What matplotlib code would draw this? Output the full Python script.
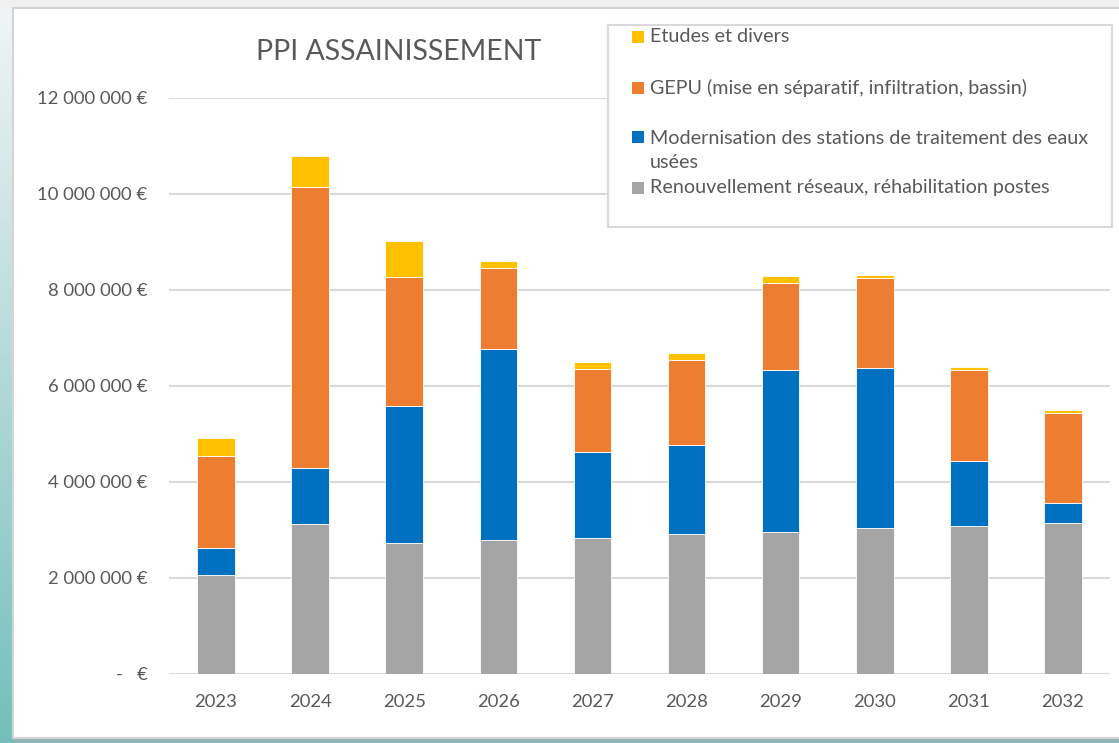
import matplotlib
matplotlib.use("Agg")
import matplotlib.pyplot as plt
import numpy as np
from matplotlib.patches import Rectangle
from matplotlib.ticker import FuncFormatter

plt.rcParams['font.family'] = ['Lato', 'DejaVu Sans']

years = ["2023", "2024", "2025", "2026", "2027", "2028", "2029", "2030", "2031", "2032"]
renouvellement = [2.06e6, 3.11e6, 2.73e6, 2.78e6, 2.83e6, 2.90e6, 2.95e6, 3.03e6, 3.07e6, 3.13e6]
modernisation = [0.56e6, 1.17e6, 2.85e6, 3.98e6, 1.78e6, 1.87e6, 3.38e6, 3.35e6, 1.37e6, 0.42e6]
gepu = [1.91e6, 5.86e6, 2.69e6, 1.70e6, 1.74e6, 1.77e6, 1.82e6, 1.86e6, 1.89e6, 1.88e6]
etudes = [0.38e6, 0.65e6, 0.74e6, 0.14e6, 0.14e6, 0.14e6, 0.14e6, 0.06e6, 0.06e6, 0.07e6]

labels = ["Etudes et divers",
          "GEPU (mise en séparatif, infiltration, bassin)",
          "Modernisation des stations de traitement des eaux\nusées",
          "Renouvellement réseaux, réhabilitation postes"]
colors = {"etudes": "#FFC000", "gepu": "#ED7D31", "mod": "#0070C0", "ren": "#A5A5A5"}

W, H = 1119, 743
fig = plt.figure(figsize=(W / 100, H / 100), dpi=100)

# background gradient (left teal strip, top grey strip)
bg = fig.add_axes([0, 0, 1, 1], zorder=-10)
bg.set_axis_off()
ny = 200
grad = np.linspace(0, 1, ny)[:, None]
top_c = np.array([0.95, 0.96, 0.96])
bot_c = np.array([0.45, 0.75, 0.73])
img = top_c[None, None, :] * (1 - grad[:, :, None]) + bot_c[None, None, :] * grad[:, :, None]
img = np.repeat(img, 2, axis=1)
bg.imshow(img, aspect='auto', extent=[0, 1, 0, 1], origin='upper')
bg.add_patch(Rectangle((13 / W, 0), 1, 8 / H, facecolor='#8fb7b5', edgecolor='none'))
bg.add_patch(Rectangle((0.0, 1 - 8 / H), 1, 8 / H, facecolor='#f0f0f0', edgecolor='none'))
bg.add_patch(Rectangle((13 / W, 5 / H), 1 - 13 / W + 0.01, 1 - 13 / H,
                       facecolor='white', edgecolor='#d4d4d4', linewidth=1.5))
bg.set_xlim(0, 1)
bg.set_ylim(0, 1)

ax = fig.add_axes([169 / W, (H - 673.5) / H, (1110 - 169) / W, (673.5 - 98) / H])
ax.set_facecolor('none')
x = np.arange(len(years))
bw = 0.4
ren = np.array(renouvellement)
mod = np.array(modernisation)
gp = np.array(gepu)
et = np.array(etudes)
ekw = dict(edgecolor='white', linewidth=0.6, zorder=3)
ax.bar(x, ren, bw, color=colors["ren"], **ekw)
ax.bar(x, mod, bw, bottom=ren, color=colors["mod"], **ekw)
ax.bar(x, gp, bw, bottom=ren + mod, color=colors["gepu"], **ekw)
ax.bar(x, et, bw, bottom=ren + mod + gp, color=colors["etudes"], **ekw)

ax.set_xlim(-0.5, len(years) - 0.5)
ax.set_ylim(0, 12e6)
ax.set_yticks(np.arange(0, 12e6 + 1, 2e6))


def fmt(v, pos):
    if v == 0:
        return "-   €"
    return "{:,.0f}".format(v).replace(",", " ") + " €"


ax.yaxis.set_major_formatter(FuncFormatter(fmt))
ax.set_xticks(x)
ax.set_xticklabels(years)
ax.grid(axis='y', color='#D9D9D9', linewidth=1.5, zorder=0)
ax.set_axisbelow(True)
for s in ax.spines.values():
    s.set_visible(False)
ax.tick_params(axis='both', length=0, colors='#595959', labelsize=13.3)
ax.tick_params(axis='y', pad=15.5)
ax.tick_params(axis='x', pad=15)

fig.text(399 / W, 1 - 52 / H, "PPI ASSAINISSEMENT", ha='center', va='center',
         fontsize=20.5, color='#595959')

# legend box
lg = fig.add_axes([0, 0, 1, 1], zorder=5)
lg.set_axis_off()
lg.set_xlim(0, W)
lg.set_ylim(H, 0)
lg.add_patch(Rectangle((608, 25), 1112 - 608, 227 - 25, facecolor='white',
                       edgecolor='#D9D9D9', linewidth=1.5))
entries = [(colors["etudes"], 37, 37), (colors["gepu"], 88, 88),
           (colors["mod"], 137, 150.5), (colors["ren"], 188, 188)]
for (c, ym, yt), lab in zip(entries, labels):
    lg.add_patch(Rectangle((632, ym - 6), 12, 12, facecolor=c, edgecolor='none'))
    lg.text(650, yt, lab, ha='left', va='center', fontsize=14.2, color='#595959',
            linespacing=1.55)

fig.savefig("out.png", dpi=100)
